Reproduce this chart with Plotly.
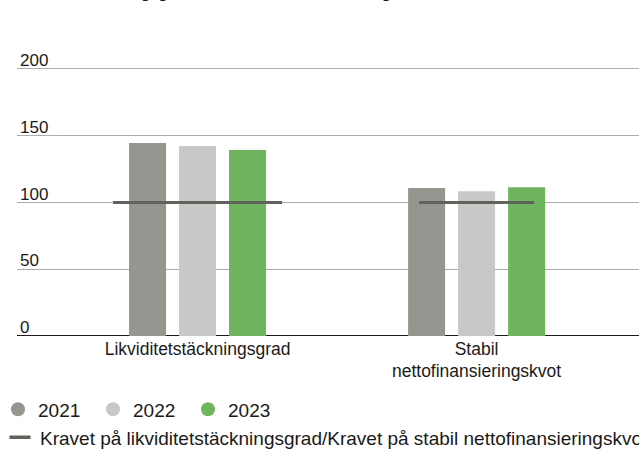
import plotly.graph_objects as go

# Ratios per measure (%)
categories = ["Likviditetstäckningsgrad", "Stabil<br>nettofinansieringskvot"]
years = ["2021", "2022", "2023"]
values_2021 = [144.5, 110.8]
values_2022 = [142.3, 108.5]
values_2023 = [139.3, 111.5]
requirement = [100, 100]
requirement_label = "Kravet på likviditetstäckningsgrad/Kravet på stabil nettofinansieringskvot"
title_text = "Likviditetstäckningsgrad och stabil nettofinansieringskvot"
y_ticks = [0, 50, 100, 150, 200]

# Styling
colors = {"2021": "#969590", "2022": "#c8c8c6", "2023": "#6fb55d"}
req_color = "#62625c"
req_half_width = [0.303, 0.206]
FONT = "Liberation Sans"

W, H = 639, 450
Y_MIN, Y_MAX = -3, 221.7
M_L, M_R, M_T, M_B = 17, 0, 40, 110.3
plot_h = H - M_T - M_B
plot_w = W - M_L - M_R
zero_px = M_T + plot_h * Y_MAX / (Y_MAX - Y_MIN)  # page y of the value 0

series = {"2021": values_2021, "2022": values_2022, "2023": values_2023}
xpos = list(range(len(categories)))

fig = go.Figure()

for yr in years:
    fig.add_trace(go.Bar(
        x=xpos, y=series[yr], name=yr,
        marker=dict(color=colors[yr], line=dict(width=0)),
        showlegend=False, hoverinfo="skip",
    ))

# Requirement level drawn as a horizontal segment over each group
rx, ry = [], []
for i, r in enumerate(requirement):
    rx += [xpos[i] - req_half_width[i], xpos[i] + req_half_width[i], None]
    ry += [r, r, None]
fig.add_trace(go.Scatter(
    x=rx, y=ry, mode="lines", line=dict(color=req_color, width=3),
    showlegend=False, hoverinfo="skip",
))

# Legend entries: round markers for years, short dash for requirement
for yr in years:
    fig.add_trace(go.Scatter(
        x=[None], y=[None], mode="markers", name=yr,
        marker=dict(symbol="circle", size=14, color=colors[yr]),
        legend="legend",
    ))
fig.add_trace(go.Scatter(
    x=[None], y=[None], mode="markers", name=requirement_label,
    marker=dict(symbol="line-ew", size=15, line=dict(width=3.5, color=req_color)),
    legend="legend2",
))

fig.update_layout(
    width=W, height=H,
    margin=dict(l=M_L, r=M_R, t=M_T, b=M_B, pad=0, autoexpand=False),
    paper_bgcolor="white", plot_bgcolor="white",
    font=dict(family=FONT, color="#1a1a1a", size=17),
    barmode="group", bargap=0.4624, bargroupgap=0.26,
    xaxis=dict(
        range=[-0.647, 1.582], tickvals=xpos, ticktext=categories,
        showgrid=False, zeroline=False, showline=False, ticks="",
        tickfont=dict(size=17.5, family=FONT, color="#1a1a1a"),
        ticklabelstandoff=-4,
        fixedrange=True,
    ),
    yaxis=dict(
        range=[Y_MIN, Y_MAX], tickvals=y_ticks,
        ticklabelposition="inside top", ticklabelshift=3,
        showgrid=True, gridcolor="#acacac", gridwidth=1.3,
        zeroline=True, zerolinecolor="#1a1a1a", zerolinewidth=1.3,
        showline=False, ticks="",
        tickfont=dict(size=17, family=FONT, color="#1a1a1a"),
        fixedrange=True,
    ),
    legend=dict(
        orientation="h", x=-19 / plot_w, xanchor="left",
        y=(zero_px - 386) / plot_h, yanchor="top",
        font=dict(size=19, family=FONT, color="#1a1a1a"),
        bgcolor="rgba(0,0,0,0)", itemclick=False, itemdoubleclick=False,
        entrywidth=50, entrywidthmode="pixels",
    ),
    legend2=dict(
        orientation="h", x=-17 / plot_w, xanchor="left",
        y=(zero_px - 414) / plot_h, yanchor="top",
        font=dict(size=19, family=FONT, color="#1a1a1a"),
        bgcolor="rgba(0,0,0,0)", itemclick=False, itemdoubleclick=False,
    ),
    annotations=[dict(
        text=title_text, xref="paper", yref="paper",
        x=(12 - M_L) / plot_w, xanchor="left",
        y=1 + (M_T - 3) / plot_h, yanchor="bottom",
        showarrow=False,
        font=dict(size=15, family=FONT, color="#1a1a1a", weight="bold"),
    )],
)

fig.write_html("out.html")
